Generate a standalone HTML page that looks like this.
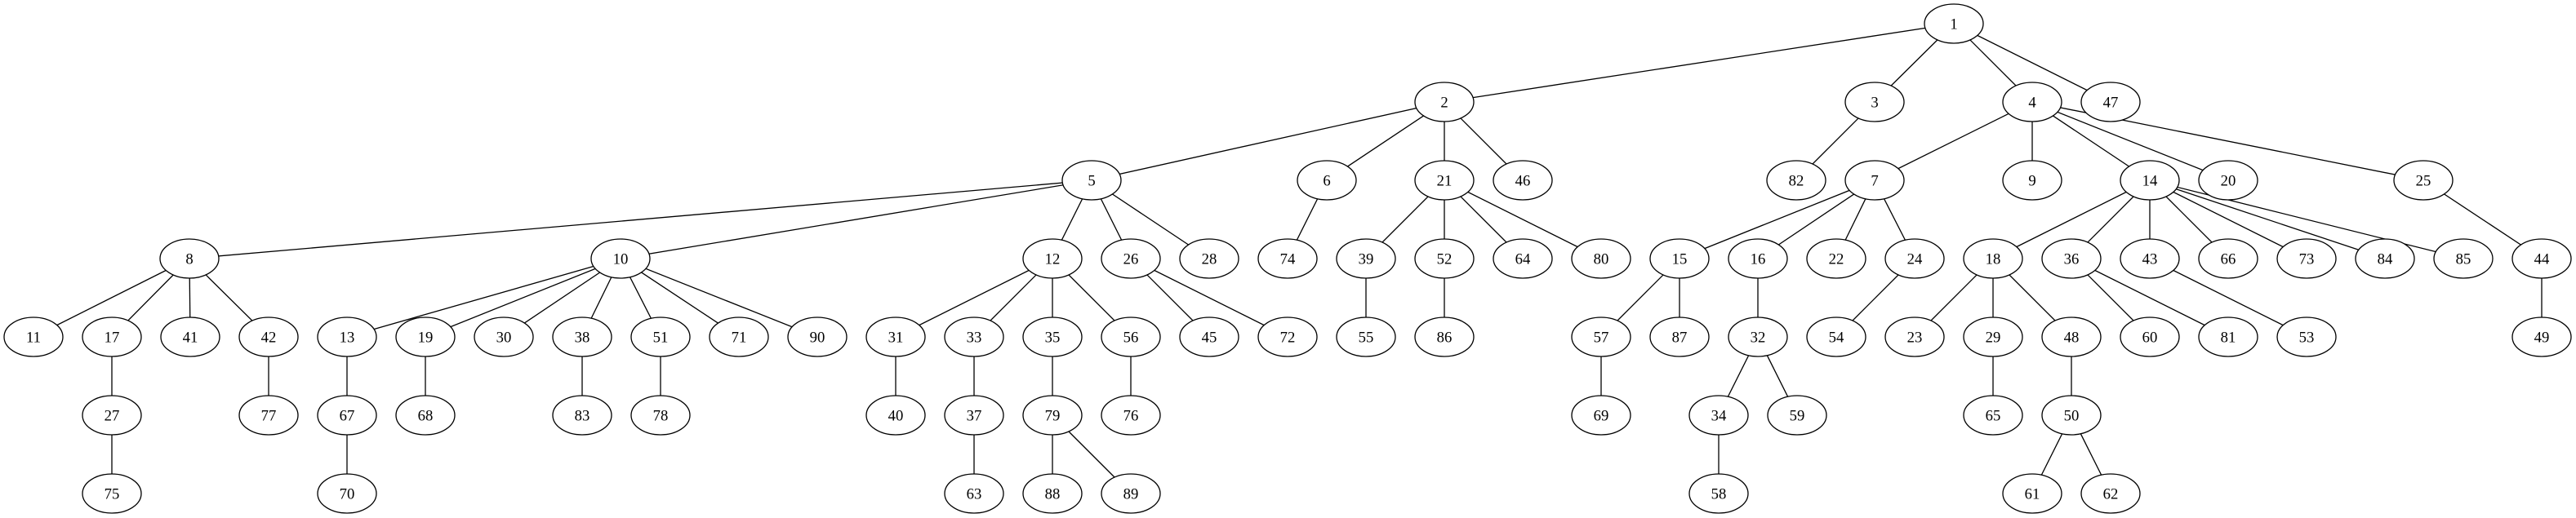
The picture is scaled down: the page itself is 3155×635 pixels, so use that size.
<!DOCTYPE html>
<html><head><meta charset="utf-8"><style>
html,body{margin:0;padding:0;background:#fff;}
svg{display:block;}
text{font-family:"Liberation Serif",serif;font-size:18.67px;text-anchor:middle;fill:#000;}
ellipse{fill:#fff;stroke:#000;stroke-width:1.3;}
line{stroke:#000;stroke-width:1.3;}
</style></head><body>
<svg width="3155" height="635" viewBox="0 0 3155 635" xmlns="http://www.w3.org/2000/svg">
<g>
<line x1="2393" y1="29" x2="1769" y2="125"/><line x1="2393" y1="29" x2="2296" y2="125"/><line x1="2393" y1="29" x2="2489" y2="125"/><line x1="2393" y1="29" x2="2585" y2="125"/>
<line x1="1769" y1="125" x2="1337" y2="221"/><line x1="1769" y1="125" x2="1625" y2="221"/><line x1="1769" y1="125" x2="1769" y2="221"/><line x1="1769" y1="125" x2="1865" y2="221"/>
<line x1="2296" y1="125" x2="2200" y2="221"/>
<line x1="2489" y1="125" x2="2296" y2="221"/><line x1="2489" y1="125" x2="2489" y2="221"/><line x1="2489" y1="125" x2="2633" y2="221"/><line x1="2489" y1="125" x2="2729" y2="221"/><line x1="2489" y1="125" x2="2968" y2="221"/>
<line x1="1337" y1="221" x2="232" y2="317"/><line x1="1337" y1="221" x2="760" y2="317"/><line x1="1337" y1="221" x2="1289" y2="317"/><line x1="1337" y1="221" x2="1385" y2="317"/><line x1="1337" y1="221" x2="1481" y2="317"/>
<line x1="1625" y1="221" x2="1577" y2="317"/>
<line x1="1769" y1="221" x2="1673" y2="317"/><line x1="1769" y1="221" x2="1769" y2="317"/><line x1="1769" y1="221" x2="1865" y2="317"/><line x1="1769" y1="221" x2="1961" y2="317"/>
<line x1="2296" y1="221" x2="2057" y2="317"/><line x1="2296" y1="221" x2="2153" y2="317"/><line x1="2296" y1="221" x2="2249" y2="317"/><line x1="2296" y1="221" x2="2345" y2="317"/>
<line x1="2633" y1="221" x2="2441" y2="317"/><line x1="2633" y1="221" x2="2537" y2="317"/><line x1="2633" y1="221" x2="2633" y2="317"/><line x1="2633" y1="221" x2="2729" y2="317"/><line x1="2633" y1="221" x2="2825" y2="317"/><line x1="2633" y1="221" x2="2921" y2="317"/><line x1="2633" y1="221" x2="3017" y2="317"/>
<line x1="2968" y1="221" x2="3113" y2="317"/>
<line x1="232" y1="317" x2="41" y2="413"/><line x1="232" y1="317" x2="137" y2="413"/><line x1="232" y1="317" x2="233" y2="413"/><line x1="232" y1="317" x2="329" y2="413"/>
<line x1="760" y1="317" x2="425" y2="413"/><line x1="760" y1="317" x2="521" y2="413"/><line x1="760" y1="317" x2="617" y2="413"/><line x1="760" y1="317" x2="713" y2="413"/><line x1="760" y1="317" x2="809" y2="413"/><line x1="760" y1="317" x2="905" y2="413"/><line x1="760" y1="317" x2="1001" y2="413"/>
<line x1="1289" y1="317" x2="1097" y2="413"/><line x1="1289" y1="317" x2="1193" y2="413"/><line x1="1289" y1="317" x2="1289" y2="413"/><line x1="1289" y1="317" x2="1385" y2="413"/>
<line x1="1385" y1="317" x2="1481" y2="413"/><line x1="1385" y1="317" x2="1577" y2="413"/>
<line x1="1673" y1="317" x2="1673" y2="413"/><line x1="1769" y1="317" x2="1769" y2="413"/>
<line x1="2057" y1="317" x2="1961" y2="413"/><line x1="2057" y1="317" x2="2057" y2="413"/>
<line x1="2153" y1="317" x2="2153" y2="413"/><line x1="2345" y1="317" x2="2249" y2="413"/>
<line x1="2441" y1="317" x2="2345" y2="413"/><line x1="2441" y1="317" x2="2441" y2="413"/><line x1="2441" y1="317" x2="2537" y2="413"/>
<line x1="2537" y1="317" x2="2633" y2="413"/><line x1="2537" y1="317" x2="2729" y2="413"/>
<line x1="2633" y1="317" x2="2825" y2="413"/><line x1="3113" y1="317" x2="3113" y2="413"/>
<line x1="137" y1="413" x2="137" y2="509"/><line x1="329" y1="413" x2="329" y2="509"/><line x1="425" y1="413" x2="425" y2="509"/><line x1="521" y1="413" x2="521" y2="509"/><line x1="713" y1="413" x2="713" y2="509"/><line x1="809" y1="413" x2="809" y2="509"/><line x1="1097" y1="413" x2="1097" y2="509"/><line x1="1193" y1="413" x2="1193" y2="509"/><line x1="1289" y1="413" x2="1289" y2="509"/><line x1="1385" y1="413" x2="1385" y2="509"/><line x1="1961" y1="413" x2="1961" y2="509"/><line x1="2153" y1="413" x2="2105" y2="509"/><line x1="2153" y1="413" x2="2201" y2="509"/><line x1="2441" y1="413" x2="2441" y2="509"/><line x1="2537" y1="413" x2="2537" y2="509"/>
<line x1="137" y1="509" x2="137" y2="605"/><line x1="425" y1="509" x2="425" y2="605"/><line x1="1193" y1="509" x2="1193" y2="605"/><line x1="1289" y1="509" x2="1289" y2="605"/><line x1="1289" y1="509" x2="1385" y2="605"/><line x1="2105" y1="509" x2="2105" y2="605"/><line x1="2537" y1="509" x2="2489" y2="605"/><line x1="2537" y1="509" x2="2585" y2="605"/>
</g>
<g>
<ellipse cx="2393" cy="29" rx="36" ry="24"/><text x="2393" y="35.5">1</text>
<ellipse cx="1769" cy="125" rx="36" ry="24"/><text x="1769" y="131.5">2</text>
<ellipse cx="2296" cy="125" rx="36" ry="24"/><text x="2296" y="131.5">3</text>
<ellipse cx="2489" cy="125" rx="36" ry="24"/><text x="2489" y="131.5">4</text>
<ellipse cx="2585" cy="125" rx="36" ry="24"/><text x="2585" y="131.5">47</text>
<ellipse cx="1337" cy="221" rx="36" ry="24"/><text x="1337" y="227.5">5</text>
<ellipse cx="1625" cy="221" rx="36" ry="24"/><text x="1625" y="227.5">6</text>
<ellipse cx="1769" cy="221" rx="36" ry="24"/><text x="1769" y="227.5">21</text>
<ellipse cx="1865" cy="221" rx="36" ry="24"/><text x="1865" y="227.5">46</text>
<ellipse cx="2200" cy="221" rx="36" ry="24"/><text x="2200" y="227.5">82</text>
<ellipse cx="2296" cy="221" rx="36" ry="24"/><text x="2296" y="227.5">7</text>
<ellipse cx="2489" cy="221" rx="36" ry="24"/><text x="2489" y="227.5">9</text>
<ellipse cx="2633" cy="221" rx="36" ry="24"/><text x="2633" y="227.5">14</text>
<ellipse cx="2729" cy="221" rx="36" ry="24"/><text x="2729" y="227.5">20</text>
<ellipse cx="2968" cy="221" rx="36" ry="24"/><text x="2968" y="227.5">25</text>
<ellipse cx="232" cy="317" rx="36" ry="24"/><text x="232" y="323.5">8</text>
<ellipse cx="760" cy="317" rx="36" ry="24"/><text x="760" y="323.5">10</text>
<ellipse cx="1289" cy="317" rx="36" ry="24"/><text x="1289" y="323.5">12</text>
<ellipse cx="1385" cy="317" rx="36" ry="24"/><text x="1385" y="323.5">26</text>
<ellipse cx="1481" cy="317" rx="36" ry="24"/><text x="1481" y="323.5">28</text>
<ellipse cx="1577" cy="317" rx="36" ry="24"/><text x="1577" y="323.5">74</text>
<ellipse cx="1673" cy="317" rx="36" ry="24"/><text x="1673" y="323.5">39</text>
<ellipse cx="1769" cy="317" rx="36" ry="24"/><text x="1769" y="323.5">52</text>
<ellipse cx="1865" cy="317" rx="36" ry="24"/><text x="1865" y="323.5">64</text>
<ellipse cx="1961" cy="317" rx="36" ry="24"/><text x="1961" y="323.5">80</text>
<ellipse cx="2057" cy="317" rx="36" ry="24"/><text x="2057" y="323.5">15</text>
<ellipse cx="2153" cy="317" rx="36" ry="24"/><text x="2153" y="323.5">16</text>
<ellipse cx="2249" cy="317" rx="36" ry="24"/><text x="2249" y="323.5">22</text>
<ellipse cx="2345" cy="317" rx="36" ry="24"/><text x="2345" y="323.5">24</text>
<ellipse cx="2441" cy="317" rx="36" ry="24"/><text x="2441" y="323.5">18</text>
<ellipse cx="2537" cy="317" rx="36" ry="24"/><text x="2537" y="323.5">36</text>
<ellipse cx="2633" cy="317" rx="36" ry="24"/><text x="2633" y="323.5">43</text>
<ellipse cx="2729" cy="317" rx="36" ry="24"/><text x="2729" y="323.5">66</text>
<ellipse cx="2825" cy="317" rx="36" ry="24"/><text x="2825" y="323.5">73</text>
<ellipse cx="2921" cy="317" rx="36" ry="24"/><text x="2921" y="323.5">84</text>
<ellipse cx="3017" cy="317" rx="36" ry="24"/><text x="3017" y="323.5">85</text>
<ellipse cx="3113" cy="317" rx="36" ry="24"/><text x="3113" y="323.5">44</text>
<ellipse cx="41" cy="413" rx="36" ry="24"/><text x="41" y="419.5">11</text>
<ellipse cx="137" cy="413" rx="36" ry="24"/><text x="137" y="419.5">17</text>
<ellipse cx="233" cy="413" rx="36" ry="24"/><text x="233" y="419.5">41</text>
<ellipse cx="329" cy="413" rx="36" ry="24"/><text x="329" y="419.5">42</text>
<ellipse cx="425" cy="413" rx="36" ry="24"/><text x="425" y="419.5">13</text>
<ellipse cx="521" cy="413" rx="36" ry="24"/><text x="521" y="419.5">19</text>
<ellipse cx="617" cy="413" rx="36" ry="24"/><text x="617" y="419.5">30</text>
<ellipse cx="713" cy="413" rx="36" ry="24"/><text x="713" y="419.5">38</text>
<ellipse cx="809" cy="413" rx="36" ry="24"/><text x="809" y="419.5">51</text>
<ellipse cx="905" cy="413" rx="36" ry="24"/><text x="905" y="419.5">71</text>
<ellipse cx="1001" cy="413" rx="36" ry="24"/><text x="1001" y="419.5">90</text>
<ellipse cx="1097" cy="413" rx="36" ry="24"/><text x="1097" y="419.5">31</text>
<ellipse cx="1193" cy="413" rx="36" ry="24"/><text x="1193" y="419.5">33</text>
<ellipse cx="1289" cy="413" rx="36" ry="24"/><text x="1289" y="419.5">35</text>
<ellipse cx="1385" cy="413" rx="36" ry="24"/><text x="1385" y="419.5">56</text>
<ellipse cx="1481" cy="413" rx="36" ry="24"/><text x="1481" y="419.5">45</text>
<ellipse cx="1577" cy="413" rx="36" ry="24"/><text x="1577" y="419.5">72</text>
<ellipse cx="1673" cy="413" rx="36" ry="24"/><text x="1673" y="419.5">55</text>
<ellipse cx="1769" cy="413" rx="36" ry="24"/><text x="1769" y="419.5">86</text>
<ellipse cx="1961" cy="413" rx="36" ry="24"/><text x="1961" y="419.5">57</text>
<ellipse cx="2057" cy="413" rx="36" ry="24"/><text x="2057" y="419.5">87</text>
<ellipse cx="2153" cy="413" rx="36" ry="24"/><text x="2153" y="419.5">32</text>
<ellipse cx="2249" cy="413" rx="36" ry="24"/><text x="2249" y="419.5">54</text>
<ellipse cx="2345" cy="413" rx="36" ry="24"/><text x="2345" y="419.5">23</text>
<ellipse cx="2441" cy="413" rx="36" ry="24"/><text x="2441" y="419.5">29</text>
<ellipse cx="2537" cy="413" rx="36" ry="24"/><text x="2537" y="419.5">48</text>
<ellipse cx="2633" cy="413" rx="36" ry="24"/><text x="2633" y="419.5">60</text>
<ellipse cx="2729" cy="413" rx="36" ry="24"/><text x="2729" y="419.5">81</text>
<ellipse cx="2825" cy="413" rx="36" ry="24"/><text x="2825" y="419.5">53</text>
<ellipse cx="3113" cy="413" rx="36" ry="24"/><text x="3113" y="419.5">49</text>
<ellipse cx="137" cy="509" rx="36" ry="24"/><text x="137" y="515.5">27</text>
<ellipse cx="329" cy="509" rx="36" ry="24"/><text x="329" y="515.5">77</text>
<ellipse cx="425" cy="509" rx="36" ry="24"/><text x="425" y="515.5">67</text>
<ellipse cx="521" cy="509" rx="36" ry="24"/><text x="521" y="515.5">68</text>
<ellipse cx="713" cy="509" rx="36" ry="24"/><text x="713" y="515.5">83</text>
<ellipse cx="809" cy="509" rx="36" ry="24"/><text x="809" y="515.5">78</text>
<ellipse cx="1097" cy="509" rx="36" ry="24"/><text x="1097" y="515.5">40</text>
<ellipse cx="1193" cy="509" rx="36" ry="24"/><text x="1193" y="515.5">37</text>
<ellipse cx="1289" cy="509" rx="36" ry="24"/><text x="1289" y="515.5">79</text>
<ellipse cx="1385" cy="509" rx="36" ry="24"/><text x="1385" y="515.5">76</text>
<ellipse cx="1961" cy="509" rx="36" ry="24"/><text x="1961" y="515.5">69</text>
<ellipse cx="2105" cy="509" rx="36" ry="24"/><text x="2105" y="515.5">34</text>
<ellipse cx="2201" cy="509" rx="36" ry="24"/><text x="2201" y="515.5">59</text>
<ellipse cx="2441" cy="509" rx="36" ry="24"/><text x="2441" y="515.5">65</text>
<ellipse cx="2537" cy="509" rx="36" ry="24"/><text x="2537" y="515.5">50</text>
<ellipse cx="137" cy="605" rx="36" ry="24"/><text x="137" y="611.5">75</text>
<ellipse cx="425" cy="605" rx="36" ry="24"/><text x="425" y="611.5">70</text>
<ellipse cx="1193" cy="605" rx="36" ry="24"/><text x="1193" y="611.5">63</text>
<ellipse cx="1289" cy="605" rx="36" ry="24"/><text x="1289" y="611.5">88</text>
<ellipse cx="1385" cy="605" rx="36" ry="24"/><text x="1385" y="611.5">89</text>
<ellipse cx="2105" cy="605" rx="36" ry="24"/><text x="2105" y="611.5">58</text>
<ellipse cx="2489" cy="605" rx="36" ry="24"/><text x="2489" y="611.5">61</text>
<ellipse cx="2585" cy="605" rx="36" ry="24"/><text x="2585" y="611.5">62</text>
</g>
</svg>
</body></html>
